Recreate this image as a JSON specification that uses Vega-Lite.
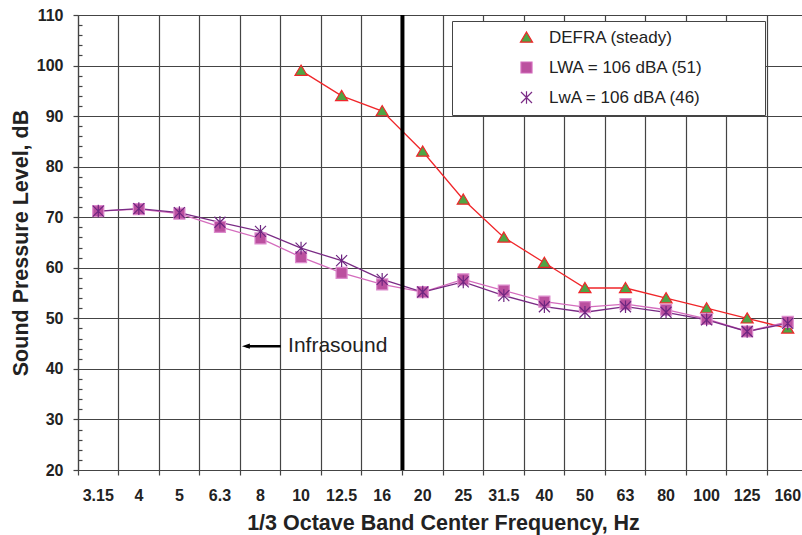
{
  "$schema": "https://vega.github.io/schema/vega-lite/v6.json",
  "width": 724,
  "height": 455,
  "autosize": "none",
  "padding": {"left": 78, "top": 15, "right": 0, "bottom": 65},
  "background": "white",
  "config": {
    "font": "Liberation Sans",
    "view": {"stroke": null}
  },
  "datasets": {
    "spl": [
      {"freq": "10", "series": "DEFRA (steady)", "level": 99},
      {"freq": "12.5", "series": "DEFRA (steady)", "level": 94},
      {"freq": "16", "series": "DEFRA (steady)", "level": 91},
      {"freq": "20", "series": "DEFRA (steady)", "level": 83},
      {"freq": "25", "series": "DEFRA (steady)", "level": 73.5},
      {"freq": "31.5", "series": "DEFRA (steady)", "level": 66},
      {"freq": "40", "series": "DEFRA (steady)", "level": 61},
      {"freq": "50", "series": "DEFRA (steady)", "level": 56},
      {"freq": "63", "series": "DEFRA (steady)", "level": 56},
      {"freq": "80", "series": "DEFRA (steady)", "level": 54},
      {"freq": "100", "series": "DEFRA (steady)", "level": 52},
      {"freq": "125", "series": "DEFRA (steady)", "level": 50},
      {"freq": "160", "series": "DEFRA (steady)", "level": 48},
      {"freq": "3.15", "series": "LWA = 106 dBA (51)", "level": 71.2},
      {"freq": "4", "series": "LWA = 106 dBA (51)", "level": 71.6},
      {"freq": "5", "series": "LWA = 106 dBA (51)", "level": 70.7},
      {"freq": "6.3", "series": "LWA = 106 dBA (51)", "level": 68.1},
      {"freq": "8", "series": "LWA = 106 dBA (51)", "level": 65.8},
      {"freq": "10", "series": "LWA = 106 dBA (51)", "level": 62.1},
      {"freq": "12.5", "series": "LWA = 106 dBA (51)", "level": 59.0},
      {"freq": "16", "series": "LWA = 106 dBA (51)", "level": 56.7},
      {"freq": "20", "series": "LWA = 106 dBA (51)", "level": 55.2},
      {"freq": "25", "series": "LWA = 106 dBA (51)", "level": 57.7},
      {"freq": "31.5", "series": "LWA = 106 dBA (51)", "level": 55.5},
      {"freq": "40", "series": "LWA = 106 dBA (51)", "level": 53.3},
      {"freq": "50", "series": "LWA = 106 dBA (51)", "level": 52.2},
      {"freq": "63", "series": "LWA = 106 dBA (51)", "level": 52.8},
      {"freq": "80", "series": "LWA = 106 dBA (51)", "level": 51.7},
      {"freq": "100", "series": "LWA = 106 dBA (51)", "level": 49.9},
      {"freq": "125", "series": "LWA = 106 dBA (51)", "level": 47.4},
      {"freq": "160", "series": "LWA = 106 dBA (51)", "level": 49.3},
      {"freq": "3.15", "series": "LwA = 106 dBA (46)", "level": 71.2},
      {"freq": "4", "series": "LwA = 106 dBA (46)", "level": 71.7},
      {"freq": "5", "series": "LwA = 106 dBA (46)", "level": 70.9},
      {"freq": "6.3", "series": "LwA = 106 dBA (46)", "level": 69.0},
      {"freq": "8", "series": "LwA = 106 dBA (46)", "level": 67.2},
      {"freq": "10", "series": "LwA = 106 dBA (46)", "level": 63.9},
      {"freq": "12.5", "series": "LwA = 106 dBA (46)", "level": 61.4},
      {"freq": "16", "series": "LwA = 106 dBA (46)", "level": 57.7},
      {"freq": "20", "series": "LwA = 106 dBA (46)", "level": 55.2},
      {"freq": "25", "series": "LwA = 106 dBA (46)", "level": 57.2},
      {"freq": "31.5", "series": "LwA = 106 dBA (46)", "level": 54.5},
      {"freq": "40", "series": "LwA = 106 dBA (46)", "level": 52.3},
      {"freq": "50", "series": "LwA = 106 dBA (46)", "level": 51.2},
      {"freq": "63", "series": "LwA = 106 dBA (46)", "level": 52.3},
      {"freq": "80", "series": "LwA = 106 dBA (46)", "level": 51.2},
      {"freq": "100", "series": "LwA = 106 dBA (46)", "level": 49.7},
      {"freq": "125", "series": "LwA = 106 dBA (46)", "level": 47.4},
      {"freq": "160", "series": "LwA = 106 dBA (46)", "level": 49.0}
    ],
    "divider": [{"freq": "20"}],
    "note": [{"freq": "8", "freqEnd": "8", "textFreq": "10", "level": 44.5, "label": "Infrasound"}]
  },
  "layer": [
    {
      "data": {"name": "spl"},
      "mark": {"type": "line", "strokeWidth": 1.3},
      "encoding": {
        "x": {
          "field": "freq", "type": "ordinal", "title": "1/3 Octave Band Center Frequency, Hz",
          "scale": {"type": "band", "domain": ["3.15","4","5","6.3","8","10","12.5","16","20","25","31.5","40","50","63","80","100","125","160"], "range": [0, 730], "paddingInner": 0, "paddingOuter": 0},
          "axis": {
            "bandPosition": 0, "grid": true, "gridColor": "#444", "gridWidth": 1.2,
            "tickColor": "#444", "tickSize": 5, "tickWidth": 1.2, "domainColor": "#444", "domainWidth": 1.2,
            "labelFontSize": 16, "labelFontWeight": "bold", "labelColor": "#222", "labelAngle": 0,
            "labelPadding": 12, "labelAlign": "center", "labelOverlap": false,
            "titleFontSize": 21.5, "titleFontWeight": "bold", "titleColor": "#222", "titlePadding": 9, "titleX": 365
          }
        },
        "y": {
          "field": "level", "type": "quantitative", "title": "Sound Pressure Level, dB",
          "scale": {"domain": [20, 110], "nice": false, "zero": false},
          "axis": {
            "values": [20,22,24,26,28,30,32,34,36,38,40,42,44,46,48,50,52,54,56,58,60,62,64,66,68,70,72,74,76,78,80,82,84,86,88,90,92,94,96,98,100,102,104,106,108,110],
            "tickCount": 200,
            "format": "d",
            "labelExpr": "datum.value % 10 == 0 ? datum.label : ''",
            "labelOverlap": false,
            "grid": true, "gridColor": "#444", "gridWidth": 1.2,
            "gridOpacity": {"condition": {"test": "datum.value % 10 == 0", "value": 1}, "value": 0},
            "tickSize": {"condition": {"test": "datum.value % 10 == 0", "value": 5}, "value": -4},
            "tickColor": "#444", "tickWidth": 1.2, "domainColor": "#444", "domainWidth": 1.2,
            "labelFontSize": 16, "labelFontWeight": "bold", "labelColor": "#222", "labelPadding": 10,
            "titleFontSize": 21.5, "titleFontWeight": "bold", "titleColor": "#222", "titlePadding": 4
          }
        },
        "stroke": {
          "field": "series", "type": "nominal",
          "scale": {"domain": ["DEFRA (steady)", "LWA = 106 dBA (51)", "LwA = 106 dBA (46)"], "range": ["#f0262a", "#d46cbd", "#7a2b85"]},
          "legend": {
            "title": "\u00a0", "titleOrient": "right", "titlePadding": 54, "titleFontSize": 17,
            "orient": "none", "legendX": 374, "legendY": 6,
            "strokeColor": "#444", "fillColor": "white", "padding": 8, "cornerRadius": 0,
            "symbolSize": 121, "symbolOffset": 58, "labelOffset": 14, "rowPadding": 12,
            "labelFontSize": 17, "labelColor": "#222", "labelFont": "Liberation Sans", "labelLimit": 400,
            "encode": {
              "symbols": {
                "update": {
                  "shape": {"signal": "datum.value === 'DEFRA (steady)' ? 'M-1.82,0.35L-0.8,0.35M0.8,0.35L1.82,0.35M0,-1L1.1,0.85L-1.1,0.85Z' : datum.value === 'LWA = 106 dBA (51)' ? 'M-1.82,0H-1M1,0H1.82M-1,-1H1V1H-1Z' : 'M-1.82,0H1.82M-0.85,-0.85L0.85,0.85M-0.85,0.85L0.85,-0.85M0,-1.1V1.1'"},
                  "fill": {"signal": "datum.value === 'DEFRA (steady)' ? '#4fa544' : datum.value === 'LWA = 106 dBA (51)' ? '#bb509f' : 'transparent'"},
                  "stroke": {"signal": "datum.value === 'DEFRA (steady)' ? '#f0262a' : datum.value === 'LWA = 106 dBA (51)' ? '#d46cbd' : '#7a2b85'"},
                  "strokeWidth": {"value": 1.2},
                  "opacity": {"value": 1}
                }
              }
            }
          }
        }
      }
    },
    {
      "data": {"name": "spl"},
      "mark": {"type": "point", "filled": false, "opacity": 1, "strokeWidth": 1.2, "size": 121},
      "encoding": {
        "x": {"field": "freq", "type": "ordinal", "title": "1/3 Octave Band Center Frequency, Hz", "scale": {"domain": ["3.15","4","5","6.3","8","10","12.5","16","20","25","31.5","40","50","63","80","100","125","160"]}},
        "y": {"field": "level", "type": "quantitative", "title": "Sound Pressure Level, dB"},
        "shape": {
          "field": "series", "type": "nominal",
          "scale": {"domain": ["DEFRA (steady)", "LWA = 106 dBA (51)", "LwA = 106 dBA (46)"], "range": ["M0,-1L1.1,0.85L-1.1,0.85Z", "M-1,-1H1V1H-1Z", "M-1,-1L1,1M-1,1L1,-1M0,-1.15V1.15"]},
          "legend": null
        },
        "fill": {
          "field": "series", "type": "nominal",
          "scale": {"domain": ["DEFRA (steady)", "LWA = 106 dBA (51)", "LwA = 106 dBA (46)"], "range": ["#4fa544", "#bb509f", "transparent"]},
          "legend": null
        },
        "color": {
          "field": "series", "type": "nominal",
          "scale": {"domain": ["DEFRA (steady)", "LWA = 106 dBA (51)", "LwA = 106 dBA (46)"], "range": ["#f0262a", "#dd8ccd", "#6e2680"]},
          "legend": null
        }
      }
    },
    {
      "data": {"name": "divider"},
      "mark": {"type": "rule", "strokeWidth": 4, "color": "#000"},
      "encoding": {
        "x": {"field": "freq", "type": "ordinal", "bandPosition": 0, "title": "1/3 Octave Band Center Frequency, Hz", "scale": {"domain": ["3.15","4","5","6.3","8","10","12.5","16","20","25","31.5","40","50","63","80","100","125","160"]}}
      }
    },
    {
      "data": {"name": "note"},
      "mark": {"type": "rule", "strokeWidth": 2.5, "color": "#000"},
      "encoding": {
        "x": {"field": "freq", "type": "ordinal", "bandPosition": 0.15, "title": "1/3 Octave Band Center Frequency, Hz", "scale": {"domain": ["3.15","4","5","6.3","8","10","12.5","16","20","25","31.5","40","50","63","80","100","125","160"]}},
        "x2": {"field": "freqEnd", "bandPosition": 1},
        "y": {"field": "level", "type": "quantitative", "title": "Sound Pressure Level, dB"}
      }
    },
    {
      "data": {"name": "note"},
      "mark": {"type": "point", "shape": "M-1,0L1,-0.65L1,0.65Z", "filled": true, "color": "#000", "opacity": 1, "size": 64},
      "encoding": {
        "x": {"field": "freq", "type": "ordinal", "bandPosition": 0.14, "title": "1/3 Octave Band Center Frequency, Hz", "scale": {"domain": ["3.15","4","5","6.3","8","10","12.5","16","20","25","31.5","40","50","63","80","100","125","160"]}},
        "y": {"field": "level", "type": "quantitative", "title": "Sound Pressure Level, dB"}
      }
    },
    {
      "data": {"name": "note"},
      "mark": {"type": "text", "align": "left", "baseline": "middle", "fontSize": 21, "color": "#222", "font": "Liberation Sans"},
      "encoding": {
        "x": {"field": "textFreq", "type": "ordinal", "bandPosition": 0.18, "title": "1/3 Octave Band Center Frequency, Hz", "scale": {"domain": ["3.15","4","5","6.3","8","10","12.5","16","20","25","31.5","40","50","63","80","100","125","160"]}},
        "y": {"field": "level", "type": "quantitative", "title": "Sound Pressure Level, dB"},
        "text": {"field": "label"}
      }
    }
  ]
}
